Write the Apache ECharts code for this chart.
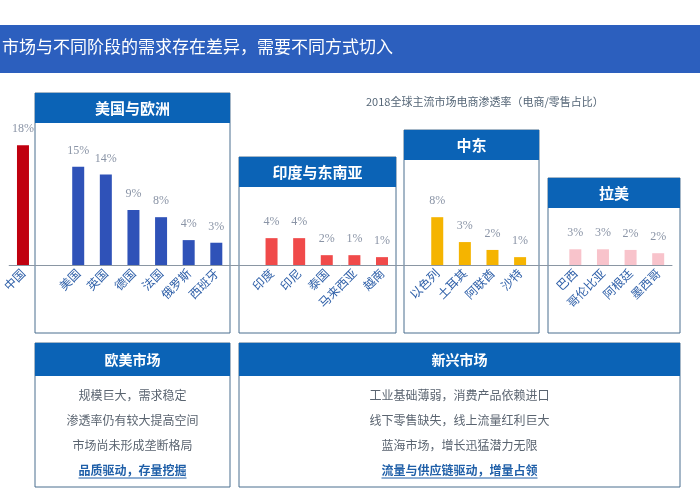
<!DOCTYPE html>
<html><head><meta charset="utf-8">
<script src="https://cdn.jsdelivr.net/npm/echarts@6/dist/echarts.min.js"></script>
<style>html,body{margin:0;padding:0;background:#fff}#c{width:700px;height:500px}</style>
</head><body><div id="c"></div>
<script>
const categories = ['中国','','美国','英国','德国','法国','俄罗斯','西班牙','','印度','印尼','泰国','马来西亚','越南','','以色列','土耳其','阿联酋','沙特','','巴西','哥伦比亚','阿根廷','墨西哥'];
const values = [18.3,null,15,13.8,8.4,7.3,3.8,3.4,null,4.1,4.1,1.5,1.5,1.2,null,7.3,3.5,2.3,1.2,null,2.4,2.4,2.3,1.8];
const valueLabels = ['18%','','15%','14%','9%','8%','4%','3%','','4%','4%','2%','1%','1%','','8%','3%','2%','1%','','3%','3%','2%','2%'];
const groups = [0,-1,1,1,1,1,1,1,-1,2,2,2,2,2,-1,3,3,3,3,-1,4,4,4,4];
const groupColors = ['#c0000f','#2f52b8','#f04a4a','#f5b400','#f8c3cb'];
const title = '市场与不同阶段的需求存在差异，需要不同方式切入';
const subtitle = '2018全球主流市场电商渗透率（电商/零售占比）';
const regionNames = ['美国与欧洲','印度与东南亚','中东','拉美'];
const panelNames = ['欧美市场','新兴市场'];
const panelLeft = ['规模巨大，需求稳定','渗透率仍有较大提高空间','市场尚未形成垄断格局','品质驱动，存量挖掘'];
const panelRight = ['工业基础薄弱，消费产品依赖进口','线下零售缺失，线上流量红利巨大','蓝海市场，增长迅猛潜力无限','流量与供应链驱动，增量占领'];

const F = '"Noto Sans CJK SC"';
const hdr = '#0b63b6', border = '#4a6f8f';
const g = [];
g.push({type:'rect',shape:{x:0,y:25,width:700,height:48},style:{fill:'#2c5fbe'},z:0});
g.push({type:'text',left:2,top:38,style:{text:title,fill:'#fff',font:'17px '+F},z:1});
g.push({type:'text',left:366,top:96,style:{text:subtitle,fill:'#556677',font:'11px '+F},z:1});
const boxes=[[35,93,195],[239,157,157],[404,130,135],[548,178,132]];
boxes.forEach((b,i)=>{
  g.push({type:'rect',shape:{x:b[0],y:b[1],width:b[2],height:333-b[1]},style:{fill:'none',stroke:border,lineWidth:1},z:0});
  g.push({type:'rect',shape:{x:b[0],y:b[1],width:b[2],height:30},style:{fill:hdr},z:0});
  g.push({type:'text',x:b[0]+b[2]/2,y:b[1]+15,style:{text:regionNames[i],fill:'#fff',font:'bold 15px '+F,align:'center',verticalAlign:'middle'},z:1});
});
const panels=[[35,195,panelLeft],[239,441,panelRight]];
panels.forEach((p,i)=>{
  g.push({type:'rect',shape:{x:p[0],y:343,width:p[1],height:144},style:{fill:'none',stroke:border,lineWidth:1},z:0});
  g.push({type:'rect',shape:{x:p[0],y:343,width:p[1],height:33},style:{fill:hdr},z:0});
  g.push({type:'text',x:p[0]+p[1]/2,y:360,style:{text:panelNames[i],fill:'#fff',font:'bold 14px '+F,align:'center',verticalAlign:'middle'},z:1});
  p[2].forEach((t,j)=>{
    const last=j===3;
    g.push({type:'text',x:p[0]+p[1]/2,y:395+j*25,style:{text:t,fill:last?'#1f5fa8':'#5a6470',font:(last?'bold ':'')+'12px '+F,align:'center',verticalAlign:'middle'},z:1});
    if(last){const w=t.length*12;g.push({type:'line',shape:{x1:p[0]+p[1]/2-w/2,y1:403+j*25,x2:p[0]+p[1]/2+w/2,y2:403+j*25},style:{stroke:'#1f5fa8',lineWidth:1},z:1});}
  });
});

const chart = echarts.init(document.getElementById('c'));
chart.setOption({
  animation:false,
  grid:{left:-8,width:680,top:134,bottom:235,containLabel:false},
  xAxis:{type:'category',data:categories,axisTick:{show:false},
    axisLine:{lineStyle:{color:'#8a96a3'}},
    axisLabel:{rotate:45,interval:0,color:'#2e5fa8',fontFamily:F,fontSize:12,margin:6}},
  yAxis:{type:'value',min:0,max:20,show:false},
  graphic:g,
  series:[{type:'bar',barWidth:12,z:5,
    data:values.map((v,i)=>({value:v,itemStyle:{color:groups[i]>=0?groupColors[groups[i]]:'#000'}})),
    label:{show:true,position:'top',distance:10,color:'#8a94a6',fontSize:12,fontFamily:'"Liberation Serif"',
      formatter:p=>valueLabels[p.dataIndex]}}]
});
</script></body></html>
